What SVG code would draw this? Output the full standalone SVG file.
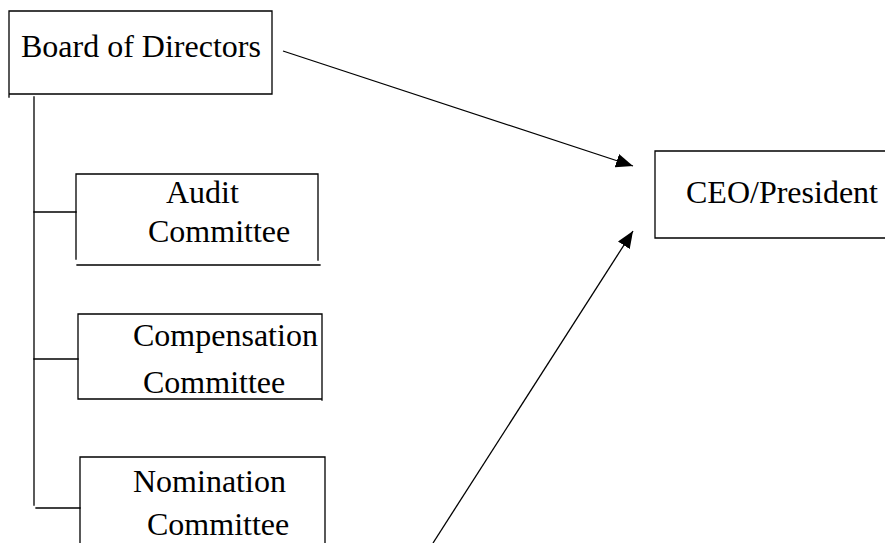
<svg xmlns="http://www.w3.org/2000/svg" width="885" height="543" viewBox="0 0 885 543">
<style>
.ln{stroke:#000;stroke-width:1.3;fill:none;stroke-linecap:square}
text{font-family:'Liberation Serif','Times New Roman',Times,'DejaVu Serif',serif;font-size:32px;fill:#000}
</style>
<defs>
<marker id="ah" markerUnits="userSpaceOnUse" markerWidth="18" markerHeight="14" refX="17" refY="7" orient="auto">
<path d="M0,0 L17,7 L0,14 Z" fill="#000"/>
</marker>
</defs>
<rect width="885" height="543" fill="#fff"/>
<g id="board">
<path class="ln" d="M9,11 H272 V94 M9,94 H272 M9,11 V97"/>
<text font-family="Liberation Serif, serif" x="21" y="57">Board of Directors</text>
</g>
<g id="ceo">
<path class="ln" d="M655,151 H885 M655,151 V238 M655,238 H885"/>
<text font-family="Liberation Serif, serif" x="686" y="203">CEO/President</text>
</g>
<g id="audit">
<path class="ln" d="M76,174 H318 M76,174 V259 M318,174 V260 M77,265 H320"/>
<text font-family="Liberation Serif, serif" x="166" y="203">Audit</text>
<text font-family="Liberation Serif, serif" x="148" y="242">Committee</text>
</g>
<g id="compensation">
<path class="ln" d="M78,314 H322 M78,314 V399 H322 M322,314 V400"/>
<text font-family="Liberation Serif, serif" x="133" y="346">Compensation</text>
<text font-family="Liberation Serif, serif" x="143" y="393">Committee</text>
</g>
<g id="nomination">
<path class="ln" d="M80,457 H325 M80,457 V543 M325,457 V543"/>
<text font-family="Liberation Serif, serif" x="133" y="492">Nomination</text>
<text font-family="Liberation Serif, serif" x="147" y="535">Committee</text>
</g>
<g id="connectors">
<path class="ln" d="M34,97 V505"/>
<path class="ln" d="M34,212 H76"/>
<path class="ln" d="M34,359 H78"/>
<path class="ln" d="M36,508 H80"/>
<line x1="283" y1="51" x2="633" y2="166" stroke="#000" stroke-width="1.3" marker-end="url(#ah)"/>
<line x1="433" y1="543" x2="633" y2="231" stroke="#000" stroke-width="1.3" marker-end="url(#ah)"/>
</g>
</svg>
